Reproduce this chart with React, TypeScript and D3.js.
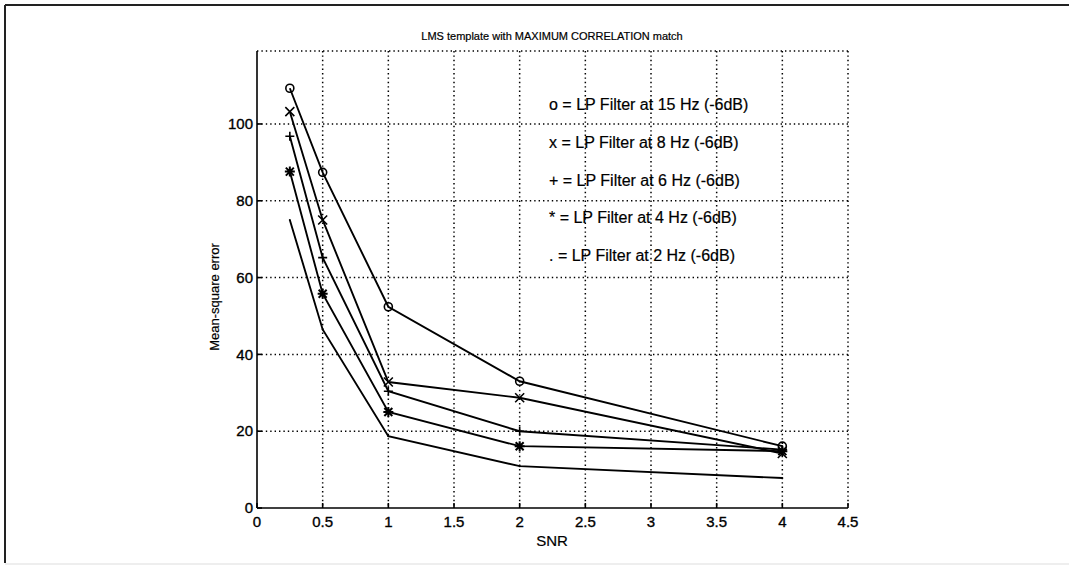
import React from "react";
import * as d3 from "d3";

// SNR values at which each filter was evaluated
const snr = [0.25, 0.5, 1, 2, 4];

// Mean-square error per low-pass filter setting
const mse15Hz = [109.3, 87.4, 52.4, 33.0, 16.1];
const mse8Hz = [103.2, 75.0, 32.8, 28.7, 14.2];
const mse6Hz = [96.8, 65.2, 30.4, 20.0, 15.2];
const mse4Hz = [87.6, 55.8, 25.0, 16.1, 14.8];
const mse2Hz = [75.0, 46.5, 18.7, 10.9, 7.8];

const seriesMarkers = ["o", "x", "+", "*", "."];
const legendLabels = [
  "o = LP Filter at 15 Hz (-6dB)",
  "x = LP Filter at 8 Hz (-6dB)",
  "+ = LP Filter at 6 Hz (-6dB)",
  "* = LP Filter at 4 Hz (-6dB)",
  ". = LP Filter at 2 Hz (-6dB)",
];

const xTicks = [0, 0.5, 1, 1.5, 2, 2.5, 3, 3.5, 4, 4.5];
const yTicks = [0, 20, 40, 60, 80, 100];

const W = 1069;
const H = 569;
const FONT = "'Liberation Sans', Arial, Helvetica, sans-serif";

function Marker({ kind, cx, cy }: { kind: string; cx: number; cy: number }) {
  const s = 4.5;
  const st = { stroke: "#000", strokeWidth: 1.6, fill: "none" };
  if (kind === "o") return <circle cx={cx} cy={cy} r={4} {...st} />;
  if (kind === "x")
    return (
      <path d={`M${cx - s},${cy - s}L${cx + s},${cy + s}M${cx - s},${cy + s}L${cx + s},${cy - s}`} {...st} />
    );
  if (kind === "+")
    return <path d={`M${cx - s},${cy}L${cx + s},${cy}M${cx},${cy - s}L${cx},${cy + s}`} {...st} />;
  if (kind === "*") {
    const d = 4;
    return (
      <path
        d={`M${cx - d},${cy - d}L${cx + d},${cy + d}M${cx - d},${cy + d}L${cx + d},${cy - d}M${cx - 5},${cy}L${cx + 5},${cy}M${cx},${cy - 5}L${cx},${cy + 5}`}
        {...st}
        strokeWidth={2}
      />
    );
  }
  return <circle cx={cx} cy={cy} r={1} fill="#000" />;
}

export default function App() {
  const x = d3.scaleLinear().domain([0, 4.5]).range([257, 848]);
  const y = d3.scaleLinear().domain([0, 119]).range([508, 51]);
  const series = [mse15Hz, mse8Hz, mse6Hz, mse4Hz, mse2Hz];
  const line = d3
    .line<number>()
    .x((_, i) => x(snr[i]))
    .y((d) => y(d));

  const dot = { stroke: "#000", strokeWidth: 1.5, strokeDasharray: "1.4 3", fill: "none" };
  const legendY = [110, 148, 186, 223, 261];

  return (
    <svg
      width={W}
      height={H}
      style={{ position: "fixed", left: 0, top: 0, background: "#fff" }}
      fontFamily={FONT}
    >
      {/* page frame */}
      <line x1={5} y1={5} x2={W} y2={5} stroke="#222" strokeWidth={2} />
      <line x1={5} y1={5} x2={5} y2={563} stroke="#222" strokeWidth={2} />
      <line x1={5} y1={564} x2={W} y2={564} stroke="#ddd" strokeWidth={1} />

      {/* dotted grid, including the top and right box edges */}
      {xTicks.slice(1).map((t) => (
        <line key={"gx" + t} x1={x(t)} x2={x(t)} y1={y(119)} y2={y(0)} {...dot} />
      ))}
      {yTicks.slice(1).map((t) => (
        <line key={"gy" + t} x1={x(0)} x2={x(4.5)} y1={y(t)} y2={y(t)} {...dot} />
      ))}
      <line x1={x(0)} x2={x(4.5)} y1={y(119)} y2={y(119)} {...dot} />

      {/* axes */}
      <line x1={x(0)} x2={x(0)} y1={y(119)} y2={y(0)} stroke="#000" strokeWidth={1.6} />
      <line x1={x(0)} x2={x(4.5)} y1={y(0)} y2={y(0)} stroke="#000" strokeWidth={1.6} />
      {xTicks.map((t) => (
        <g key={"tx" + t}>
          <line x1={x(t)} x2={x(t)} y1={y(0)} y2={y(0) - 5} stroke="#000" strokeWidth={1.6} />
          <text x={x(t)} y={527} fontSize={15} textAnchor="middle" stroke="#000" strokeWidth={0.35}>
            {String(t)}
          </text>
        </g>
      ))}
      {yTicks.map((t) => (
        <g key={"ty" + t}>
          <line x1={x(0)} x2={x(0) + 5} y1={y(t)} y2={y(t)} stroke="#000" strokeWidth={1.6} />
          <text
            x={253}
            y={y(t)}
            dy="0.35em"
            fontSize={15}
            textAnchor="end"
            stroke="#000"
            strokeWidth={0.35}
          >
            {String(t)}
          </text>
        </g>
      ))}

      {/* series */}
      {series.map((vals, si) => (
        <g key={"s" + si}>
          <path d={line(vals) || ""} fill="none" stroke="#000" strokeWidth={1.9} />
          {vals.map((v, i) => (
            <Marker key={i} kind={seriesMarkers[si]} cx={x(snr[i])} cy={y(v)} />
          ))}
        </g>
      ))}

      {/* legend text */}
      {legendLabels.map((l, i) => (
        <text key={"lg" + i} x={549} y={legendY[i]} fontSize={16} fill="#000" stroke="#000" strokeWidth={0.2}>
          {l}
        </text>
      ))}

      {/* titles */}
      <text x={552} y={40} fontSize={11} textAnchor="middle" stroke="#000" strokeWidth={0.2}>
        LMS template with MAXIMUM CORRELATION match
      </text>
      <text x={552} y={546} fontSize={15} textAnchor="middle" stroke="#000" strokeWidth={0.2}>
        SNR
      </text>
      <text
        transform="translate(219,297) rotate(-90)"
        fontSize={13}
        textAnchor="middle"
        stroke="#000"
        strokeWidth={0.2}
      >
        Mean-square error
      </text>
    </svg>
  );
}
